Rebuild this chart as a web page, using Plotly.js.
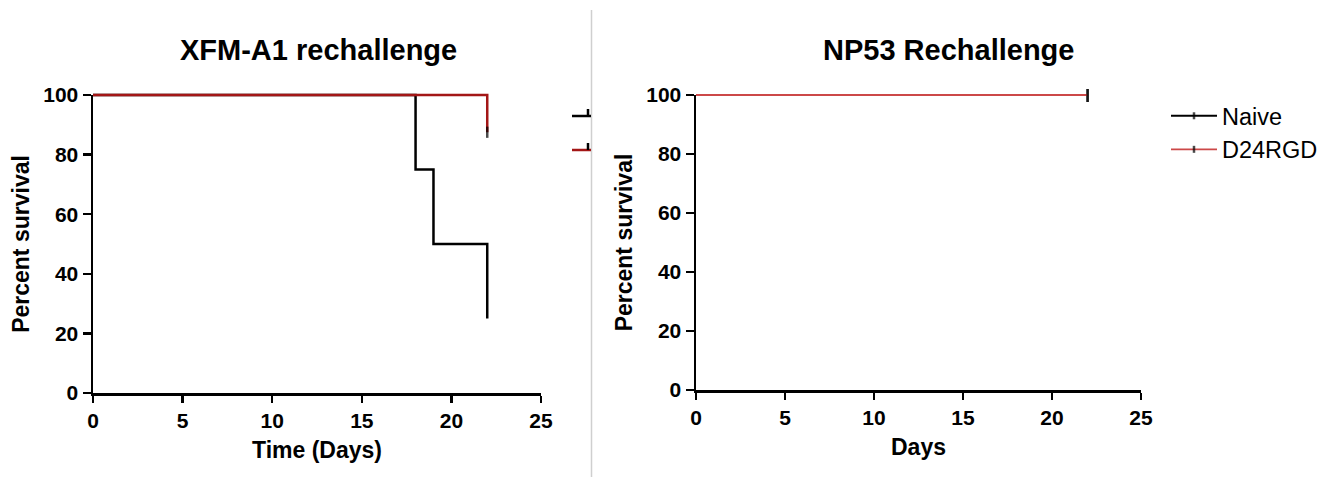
<!DOCTYPE html>
<html>
<head>
<meta charset="utf-8">
<script src="https://cdn.plot.ly/plotly-3.0.1.min.js"></script>
<style>html,body{margin:0;padding:0;background:#fff;}#chart{width:1328px;height:477px;}</style>
</head>
<body>
<div id="chart"></div>
<script>
// ---- data ----
var seriesNames = ["Naive", "D24RGD"];
// Panel A: XFM-A1 rechallenge
var naiveDaysA = [0, 18, 19, 22];
var naiveSurvA = [100, 75, 50, 25];
var rgdDaysA = [0, 22];
var rgdSurvA = [100, 87.5];
// Panel B: NP53 Rechallenge
var naiveDaysB = [0, 22];
var naiveSurvB = [100, 100];
var rgdDaysB = [0, 22];
var rgdSurvB = [100, 100];
var xTicks = [0, 5, 10, 15, 20, 25];
var yTicks = [0, 20, 40, 60, 80, 100];
var xRange = [0, 25];
var yRange = [0, 100];

var FONT = "Liberation Sans, Arial, sans-serif";
var BLACK = "#000000";
var RED_A = "#A31616";
var RED_B = "#CC4848";
var W = 1328, H = 477;
function px(x) { return x / W; }
function py(y) { return 1 - y / H; }

// pixel frames of the two panels
var frameA = {x0: 93, x1: 541, y0: 393, y1: 95};
var frameB = {x0: 696, x1: 1141, y0: 390, y1: 95};
var PAD = 6; // unclipped margin for the data layer (px)

function censorSizes(n, s) { var a = []; for (var i = 0; i < n; i++) a.push(i === n - 1 ? s : 0); return a; }

var traces = [
  // empty carriers so the visible axes frames are drawn
  {x: [], y: [], xaxis: "x", yaxis: "y", type: "scatter", mode: "lines", showlegend: false, hoverinfo: "skip"},
  {x: [], y: [], xaxis: "x2", yaxis: "y2", type: "scatter", mode: "lines", showlegend: false, hoverinfo: "skip"},
  // data
  {x: naiveDaysA, y: naiveSurvA, xaxis: "x3", yaxis: "y3", mode: "lines", line: {shape: "hv", color: BLACK, width: 2.5}, showlegend: false, name: seriesNames[0]},
  {x: rgdDaysA, y: rgdSurvA, xaxis: "x3", yaxis: "y3", mode: "lines+markers", line: {shape: "hv", color: RED_A, width: 2.5},
   marker: {symbol: "line-ns", size: censorSizes(rgdDaysA.length, 8), color: BLACK, line: {color: BLACK, width: 2.5}}, showlegend: false, name: seriesNames[1]},
  {x: naiveDaysB, y: naiveSurvB, xaxis: "x4", yaxis: "y4", mode: "lines+markers", line: {shape: "hv", color: BLACK, width: 2},
   marker: {symbol: "line-ns", size: censorSizes(naiveDaysB.length, 10), color: BLACK, line: {color: BLACK, width: 2.5}}, name: seriesNames[0], legendgroup: "a"},
  {x: rgdDaysB, y: rgdSurvB, xaxis: "x4", yaxis: "y4", mode: "lines+markers", line: {shape: "hv", color: RED_B, width: 1.8},
   marker: {symbol: "line-ns", size: censorSizes(rgdDaysB.length, 10), color: BLACK, line: {color: BLACK, width: 2.5}}, name: seriesNames[1], legendgroup: "b"}
];

function xAxis(f, anchor, title) {
  return {domain: [px(f.x0), px(f.x1)], anchor: anchor, range: xRange, tickvals: xTicks, ticktext: xTicks.map(String),
    showline: true, linecolor: BLACK, linewidth: 2.5, ticks: "outside", ticklen: 7, tickwidth: 2.5, tickcolor: BLACK,
    showgrid: false, zeroline: false, tickfont: {family: FONT, size: 21, color: BLACK, weight: "bold"},
    title: {text: title, font: {family: FONT, size: 23, color: BLACK, weight: "bold"}, standoff: 11}, fixedrange: true};
}
function yAxis(f, anchor) {
  return {domain: [py(f.y0), py(f.y1)], anchor: anchor, range: yRange, tickvals: yTicks, ticktext: yTicks.map(String),
    showline: true, linecolor: BLACK, linewidth: 2.5, ticks: "outside", ticklen: 8, tickwidth: 2.5, tickcolor: BLACK,
    showgrid: false, zeroline: false, tickfont: {family: FONT, size: 21, color: BLACK, weight: "bold"},
    title: {text: "Percent survival", font: {family: FONT, size: 23, color: BLACK, weight: "bold"}, standoff: 7}, fixedrange: true};
}
// invisible data-layer axes: same scale, slightly larger frame so lines on the edges are not clipped
function hiddenX(f, anchor) {
  var k = (xRange[1] - xRange[0]) / (f.x1 - f.x0);
  return {domain: [px(f.x0 - PAD), px(f.x1 + PAD)], anchor: anchor, range: [xRange[0] - PAD * k, xRange[1] + PAD * k], visible: false, fixedrange: true};
}
function hiddenY(f, anchor) {
  var k = (yRange[1] - yRange[0]) / (f.y0 - f.y1);
  return {domain: [py(f.y0 + PAD), py(f.y1 - PAD)], anchor: anchor, range: [yRange[0] - PAD * k, yRange[1] + PAD * k], visible: false, fixedrange: true};
}

var layout = {
  width: W, height: H,
  margin: {l: 0, r: 0, t: 0, b: 0},
  paper_bgcolor: "#ffffff", plot_bgcolor: "rgba(0,0,0,0)",
  showlegend: true,
  xaxis: xAxis(frameA, "y", "Time (Days)"),
  yaxis: yAxis(frameA, "x"),
  xaxis2: xAxis(frameB, "y2", "Days"),
  yaxis2: yAxis(frameB, "x2"),
  xaxis3: hiddenX(frameA, "y3"),
  yaxis3: hiddenY(frameA, "x3"),
  xaxis4: hiddenX(frameB, "y4"),
  yaxis4: hiddenY(frameB, "x4"),
  legend: {x: px(1166), y: py(94), xanchor: "left", yanchor: "top", font: {family: FONT, size: 23.5, color: "#000"},
    bgcolor: "rgba(0,0,0,0)", borderwidth: 0, itemwidth: 46, traceorder: "grouped", tracegroupgap: 0},
  annotations: [
    {text: "XFM-A1 rechallenge", xref: "paper", yref: "paper", x: px(318), y: py(50), xanchor: "center", yanchor: "middle", showarrow: false,
     font: {family: FONT, size: 29, color: BLACK, weight: "bold"}},
    {text: "NP53 Rechallenge", xref: "paper", yref: "paper", x: px(948), y: py(50), xanchor: "center", yanchor: "middle", showarrow: false,
     font: {family: FONT, size: 29, color: BLACK, weight: "bold"}}
  ],
  shapes: [
    // divider between the two panels
    {type: "line", xref: "paper", yref: "paper", x0: px(591.5), x1: px(591.5), y0: py(10), y1: py(477), line: {color: "#cfcfcf", width: 1.5}},
    // clipped legend fragments of the left panel
    {type: "line", xref: "paper", yref: "paper", x0: px(572), x1: px(591), y0: py(116), y1: py(116), line: {color: BLACK, width: 2.5}},
    {type: "line", xref: "paper", yref: "paper", x0: px(588), x1: px(588), y0: py(109), y1: py(116), line: {color: BLACK, width: 2.5}},
    {type: "line", xref: "paper", yref: "paper", x0: px(572), x1: px(591), y0: py(150), y1: py(150), line: {color: RED_A, width: 2.5}},
    {type: "line", xref: "paper", yref: "paper", x0: px(588), x1: px(588), y0: py(143), y1: py(150), line: {color: BLACK, width: 2.5}}
  ]
};

Plotly.newPlot("chart", traces, layout, {displayModeBar: false, staticPlot: true});
</script>
</body>
</html>
